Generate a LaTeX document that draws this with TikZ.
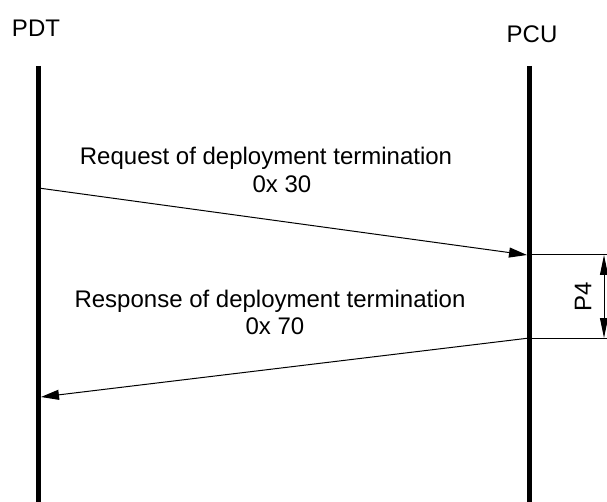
\documentclass[tikz,border=0pt]{standalone}
\usepackage{fontspec}
\setmainfont{Liberation Sans}
\usetikzlibrary{arrows.meta}

\begin{document}
\begin{tikzpicture}[x=1pt, y=-1pt, font=\fontsize{24}{28}\selectfont,
 lifeline/.style={line width=5pt},
 msg/.style={line width=1pt, -{Triangle[length=18pt,width=10pt]}},
 txt/.style={anchor=base, inner sep=0pt},
 dimline/.style={line width=1pt},
 dimarrow/.style={line width=1pt, {Triangle[length=20pt,width=8pt]}-{Triangle[length=20pt,width=8pt]}}, ]
 \useasboundingbox (0,0) rectangle (607,502);

                \node[txt] (pdt) at (36,37) {PDT};
                \node[txt] (pcu) at (532,43) {PCU};
                \coordinate (pdttop) at (38.5,66);
                \coordinate (pdtbot) at (38.5,502);
                \coordinate (pcutop) at (529.5,66);
                \coordinate (pcubot) at (529.5,502);

                \coordinate (reqstart) at (38.5,188);
                \coordinate (reqend) at (527,255);
                \coordinate (respstart) at (529.5,338);
                \coordinate (respend) at (41,397);
                \coordinate (p4top) at (607,255);
                \coordinate (p4bot) at (607,338);
                \coordinate (dimtop) at (604,255);
                \coordinate (dimbot) at (604,338);

                \node[txt] (reqtxt) at (266,165) {Request of deployment termination};
                \node[txt] (reqcode) at (282,193) {0x 30};
                \node[txt] (resptxt) at (270,307) {Response of deployment termination};
                \node[txt] (respcode) at (275,334) {0x 70};
                \node[rotate=90, inner sep=0pt] (p4) at (583,297) {P4};

                 \path [lifeline] (pdttop) edge (pdtbot)
                                  (pcutop) edge (pcubot);
                 \path [msg] (reqstart) edge (reqend)
                             (respstart) edge (respend);
                 \path [dimline] (reqend) edge (p4top)
                                 (respstart) edge (p4bot);
                 \path [dimarrow] (dimtop) edge (dimbot);
\end{tikzpicture}
\end{document}
